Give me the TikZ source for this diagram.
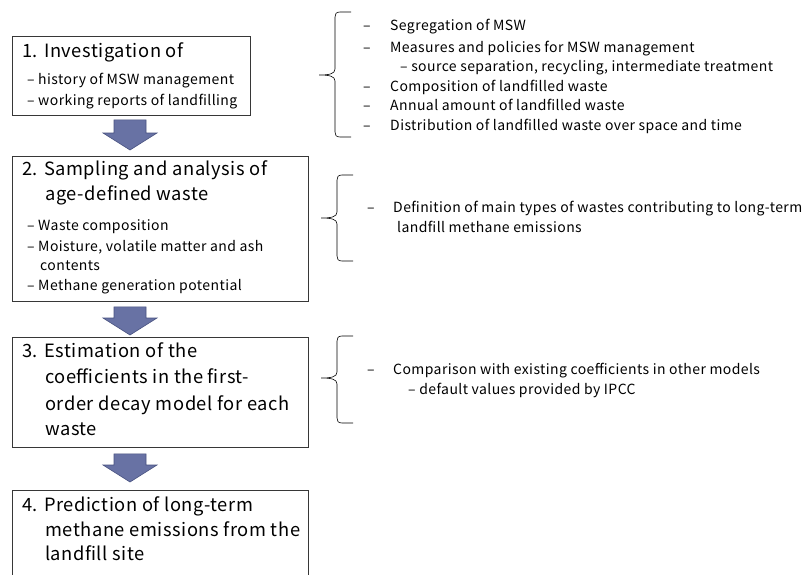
\documentclass[tikz,border=0pt]{standalone}
\usepackage{fontspec}
\setmainfont[LetterSpace=3]{Noto Sans CJK JP}
\usetikzlibrary{calc}
\definecolor{boxline}{RGB}{55,55,55}
\definecolor{arrowfill}{RGB}{104,114,164}
\definecolor{arrowline}{RGB}{72,82,128}
\newcommand\blkarrow[4]{%
  \path[blockarrow] ($(#1.south west)+(102,#3)$) -- ($(#1.south west)+(134,#3)$)
    -- ($(#2.north west)+(134,-#4-17)$) -- ($(#2.north west)+(145,-#4-17)$)
    -- ($(#2.north west)+(118,-#4)$) -- ($(#2.north west)+(91,-#4-17)$)
    -- ($(#2.north west)+(102,-#4-17)$) -- cycle;}
\newcommand\mybrace[4]{% x-vertical, top, mid, bottom
  \draw[brace] (#1+16,#2) -- (#1+5,#2) .. controls (#1+1,#2) and (#1,#2+2) .. (#1,#2+5)
    -- (#1,#3-6) .. controls (#1,#3-1) and (#1-6,#3) .. (#1-16,#3)
    .. controls (#1-6,#3) and (#1,#3+1) .. (#1,#3+6)
    -- (#1,#4-5) .. controls (#1,#4-2) and (#1+1,#4) .. (#1+5,#4) -- (#1+16,#4);}
\begin{document}
\begin{tikzpicture}[x=1pt,y=-1pt,
  box/.style={draw=boxline, line width=0.8pt, fill=white, inner sep=0pt, anchor=north west},
  head/.style={anchor=mid west, inner sep=0pt, font=\fontsize{18.3}{20}\selectfont},
  item/.style={anchor=mid west, inner sep=0pt, font=\fontsize{14}{16}\selectfont},
  blockarrow/.style={fill=arrowfill, draw=arrowline, line width=0.6pt},
  brace/.style={draw=black, line width=0.6pt}]
\useasboundingbox (0,0) rectangle (810,574);
\clip (0,0) rectangle (810,574);
\fill[white] (0,0) rectangle (810,574);

% boxes
\node[box, minimum width=238pt, minimum height=79pt] (b1) at (12,36) {};
\node[box, minimum width=296pt, minimum height=145pt] (b2) at (12,156) {};
\node[box, minimum width=296pt, minimum height=110pt] (b3) at (12,337) {};
\node[box, minimum width=296pt, minimum height=110pt] (b4) at (12,490) {};

% block arrows
\blkarrow{b1}{b2}{4}{6}
\blkarrow{b2}{b3}{5}{2}
\blkarrow{b3}{b4}{6}{8}

% box texts
\node[head] (t1) at (22,55) {1. Investigation of};
\node[item] (t1a) at (27,82) {– history of MSW management};
\node[item] (t1b) at (27,103) {– working reports of landfilling};

\node[head] (t2) at (22,173) {2. Sampling and analysis of};
\node[head] (t2b) at (45,198) {age-defined waste};
\node[item] (t2c) at (27,228) {– Waste composition};
\node[item] (t2d) at (27,249) {– Moisture, volatile matter and ash};
\node[item] (t2e) at (40,268) {contents};
\node[item] (t2f) at (27,288) {– Methane generation potential};

\node[head] (t3) at (22,355) {3. Estimation of the};
\node[head] (t3b) at (45,381) {coefficients in the first-};
\node[head] (t3c) at (45,408) {order decay model for each};
\node[head] (t3d) at (45,433) {waste};

\node[head] (t4) at (22,509) {4. Prediction of long-term};
\node[head] (t4b) at (45,534) {methane emissions from the};
\node[head] (t4c) at (45,558) {landfill site};

% braces
\mybrace{335}{12}{75}{137}
\mybrace{337}{175}{218}{261}
\mybrace{337}{336}{378}{423}

% right texts
\node[item] (d1) at (363,28) {–};
\node[item] (r1) at (390,28) {Segregation of MSW};
\node[item] (d2) at (363,50) {–};
\node[item] (r2) at (390,50) {Measures and policies for MSW management};
\node[item] (r2b) at (400,69) {– source separation, recycling, intermediate treatment};
\node[item] (d3) at (363,89) {–};
\node[item] (r3) at (390,89) {Composition of landfilled waste};
\node[item] (d4) at (363,108) {–};
\node[item] (r4) at (390,108) {Annual amount of landfilled waste};
\node[item] (d5) at (363,128) {–};
\node[item] (r5) at (390,128) {Distribution of landfilled waste over space and time};

\node[item] (d6) at (367,210) {–};
\node[item] (r6) at (393,210) {Definition of main types of wastes contributing to long-term};
\node[item] (r6b) at (397,230) {landfill methane emissions};

\node[item] (d7) at (367,372) {–};
\node[item] (r7) at (393,372) {Comparison with existing coefficients in other models};
\node[item] (r7b) at (408,392) {– default values provided by IPCC};
\end{tikzpicture}
\end{document}
